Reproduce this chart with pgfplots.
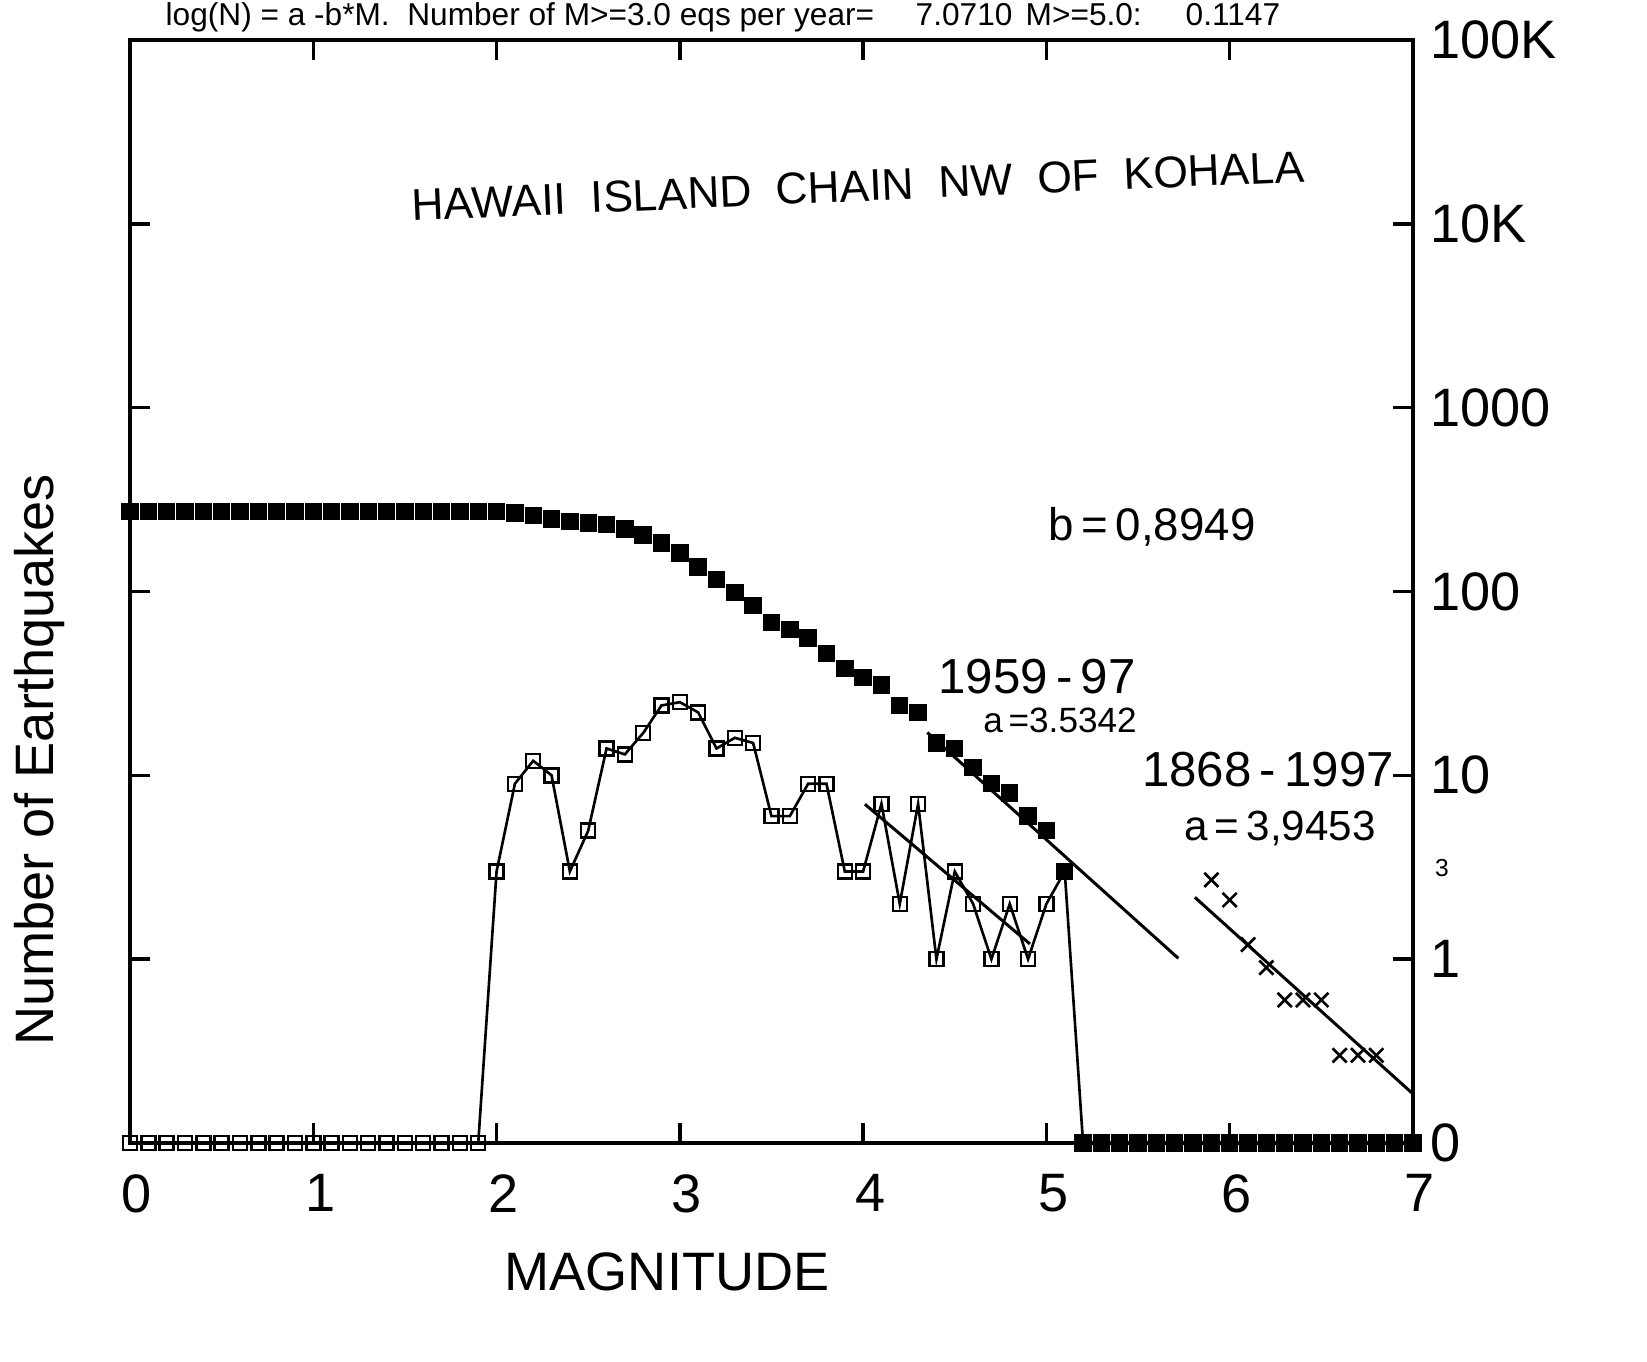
\documentclass[border=0pt]{standalone}
\usepackage{pgfplots}
\pgfplotsset{compat=1.18}
\usepackage{fontspec}
\setmainfont{Liberation Sans}
\usepackage{graphicx}

\newcommand\bigfont{\fontsize{15.4}{18}\selectfont}
\newcommand\hand[1]{\fontsize{#1}{#1}\selectfont}

\begin{document}
\begin{tikzpicture}
\useasboundingbox (0,0) rectangle (164.7mm,136.1mm);

\begin{axis}[
  at={(13mm,21.8mm)}, anchor=south west,
  scale only axis, width=128.3mm, height=110.3mm,
  ymode=log, xmin=0, xmax=7, ymin=0.1, ymax=1e5,
  xtick={0,1,2,3,4,5,6,7}, xticklabels={0,1,2,3,4,5,6,7},
  ytick={0.1,1,10,100,1000,10000,100000},
  yticklabels={0,1,10,100,1000,10K,100K},
  yminorticks=false,
  xtick pos=both, ytick pos=both, yticklabel pos=right,
  tick align=inside, major tick length=2mm,
  axis line style={line width=1pt},
  every tick/.style={black, line width=1pt},
  tick label style={font=\bigfont},
  xticklabel style={yshift=-1.9mm, xshift=0.7mm},
  yticklabel style={xshift=0.5mm},
  clip=false,
]
% counts per 0.1 magnitude bin (0 drawn on the bottom line)
\addplot [black, line width=0.75pt, mark=square, mark size=0.7mm,
  mark options={line width=0.7pt}] coordinates {
(0.0,0.1)(0.1,0.1)(0.2,0.1)(0.3,0.1)(0.4,0.1)(0.5,0.1)(0.6,0.1)(0.7,0.1)(0.8,0.1)(0.9,0.1)
(1.0,0.1)(1.1,0.1)(1.2,0.1)(1.3,0.1)(1.4,0.1)(1.5,0.1)(1.6,0.1)(1.7,0.1)(1.8,0.1)(1.9,0.1)
(2.0,3)(2.1,9)(2.2,12)(2.3,10)(2.4,3)(2.5,5)(2.6,14)(2.7,13)(2.8,17)(2.9,24)
(3.0,25)(3.1,22)(3.2,14)(3.3,16)(3.4,15)(3.5,6)(3.6,6)(3.7,9)(3.8,9)(3.9,3)
(4.0,3)(4.1,7)(4.2,2)(4.3,7)(4.4,1)(4.5,3)(4.6,2)(4.7,1)(4.8,2)(4.9,1)
(5.0,2)(5.1,3)(5.2,0.1)(5.3,0.1)(5.4,0.1)(5.5,0.1)(5.6,0.1)(5.7,0.1)(5.8,0.1)(5.9,0.1)
(6.0,0.1)(6.1,0.1)(6.2,0.1)(6.3,0.1)(6.4,0.1)(6.5,0.1)(6.6,0.1)(6.7,0.1)(6.8,0.1)(6.9,0.1)(7.0,0.1)
};
% cumulative number N(>=M)
\addplot [only marks, mark=square*, mark size=0.8mm, black] coordinates {
(0.0,272)(0.1,272)(0.2,272)(0.3,272)(0.4,272)(0.5,272)(0.6,272)(0.7,272)(0.8,272)(0.9,272)
(1.0,272)(1.1,272)(1.2,272)(1.3,272)(1.4,272)(1.5,272)(1.6,272)(1.7,272)(1.8,272)(1.9,272)
(2.0,272)(2.1,268)(2.2,259)(2.3,248)(2.4,240)(2.5,236)(2.6,232)(2.7,219)(2.8,203)(2.9,184)
(3.0,162)(3.1,136)(3.2,116)(3.3,99)(3.4,84)(3.5,68)(3.6,62)(3.7,56)(3.8,46)(3.9,38)
(4.0,34)(4.1,31)(4.2,24)(4.3,22)(4.4,15)(4.5,14)(4.6,11)(4.7,9)(4.8,8)(4.9,6)
(5.0,5)(5.1,3)(5.2,0.1)(5.3,0.1)(5.4,0.1)(5.5,0.1)(5.6,0.1)(5.7,0.1)(5.8,0.1)(5.9,0.1)
(6.0,0.1)(6.1,0.1)(6.2,0.1)(6.3,0.1)(6.4,0.1)(6.5,0.1)(6.6,0.1)(6.7,0.1)(6.8,0.1)(6.9,0.1)(7.0,0.1)
};
% fitted lines
\addplot [black, line width=0.85pt] coordinates {(4.35,17.1)(5.72,1.01)};
\addplot [black, line width=0.85pt] coordinates {(5.81,2.17)(7.0,0.185)};
\addplot [black, line width=0.85pt] coordinates {(4.01,6.96)(4.91,1.21)};
% 1868-1997 catalogue
\addplot [only marks, mark=x, mark size=1mm, black, mark options={line width=0.75pt}] coordinates {
(5.9,2.7)(6.0,2.1)(6.1,1.2)(6.2,0.9)(6.3,0.6)(6.4,0.6)(6.5,0.6)(6.6,0.3)(6.7,0.3)(6.8,0.3)
};
\end{axis}

\begin{scope}[x=0.1mm, y=-0.1mm, shift={(0,136.1mm)}]
  \node[anchor=base west, inner sep=0, font=\fontsize{9}{10}\selectfont] at (165,26)
    {log(N) = a -b*M.\ \ Number of M>=3.0 eqs per year=};
  \node[anchor=base west, inner sep=0, font=\fontsize{9}{10}\selectfont] at (915,26) {7.0710};
  \node[anchor=base west, inner sep=0, font=\fontsize{9}{10}\selectfont] at (1025,26) {M>=5.0:};
  \node[anchor=base west, inner sep=0, font=\fontsize{9}{10}\selectfont] at (1185,26) {0.1147};

  \node[rotate=90, font=\bigfont, inner sep=0] at (40,760) {Number of Earthquakes};
  \node[anchor=base, font=\bigfont, inner sep=0] at (667,1290) {MAGNITUDE};

  \node[rotate=2.5, inner sep=0] at (858,186)
    {\resizebox{89.3mm}{!}{\hand{12}HAWAII\ \ ISLAND\ \ CHAIN\ \ NW\ \ OF\ \ KOHALA}};
  \node[inner sep=0, font=\hand{13}] at (1152,527) {b\,=\,0,8949};
  \node[inner sep=0, font=\hand{14}] at (1037,677) {1959\,-\,97};
  \node[inner sep=0, font=\hand{10}] at (1060,720) {a\,=3.5342};
  \node[inner sep=0, font=\hand{14}] at (1268,770) {1868\,-\,1997};
  \node[inner sep=0, font=\hand{12}] at (1280,828) {a\,=\,3,9453};
  \node[inner sep=0, font=\hand{7}] at (1442,868) {3};
\end{scope}
\end{tikzpicture}
\end{document}
